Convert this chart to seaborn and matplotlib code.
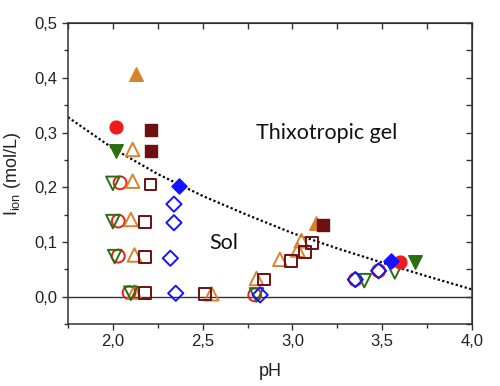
import numpy as np
import pandas as pd
import seaborn as sns
from matplotlib import pyplot as plt
from matplotlib.ticker import MultipleLocator, FuncFormatter

# ---- data ----
red_open_ph = [2.04, 2.03, 2.03, 2.09, 2.79, 3.35, 3.48]
red_open_i = [0.208, 0.138, 0.074, 0.007, 0.003, 0.031, 0.047]
red_fill_ph = [2.02, 3.60]
red_fill_i = [0.310, 0.064]

green_open_ph = [2.00, 2.00, 2.01, 2.10, 2.80, 3.40, 3.57]
green_open_i = [0.207, 0.137, 0.073, 0.006, 0.003, 0.029, 0.045]
green_fill_ph = [2.02, 3.68]
green_fill_i = [0.267, 0.064]

orange_open_ph = [2.11, 2.11, 2.10, 2.12, 2.12, 2.55, 2.80, 2.93, 3.03, 3.05]
orange_open_i = [0.269, 0.211, 0.141, 0.076, 0.008, 0.005, 0.033, 0.068, 0.085, 0.102]
orange_fill_ph = [2.13, 3.13]
orange_fill_i = [0.407, 0.134]

maroon_open_ph = [2.21, 2.18, 2.18, 2.18, 2.515, 2.84, 2.99, 3.07, 3.11]
maroon_open_i = [0.205, 0.137, 0.072, 0.006, 0.005, 0.031, 0.065, 0.082, 0.098]
maroon_fill_ph = [2.21, 2.21, 3.17]
maroon_fill_i = [0.305, 0.266, 0.130]

blue_open_ph = [2.34, 2.34, 2.32, 2.35, 2.82, 3.35, 3.48]
blue_open_i = [0.169, 0.135, 0.070, 0.006, 0.003, 0.031, 0.047]
blue_fill_ph = [2.37, 3.55]
blue_fill_i = [0.203, 0.065]

# dotted gel/sol boundary (guide line)
border_ph = [1.75, 2.00, 2.25, 2.50, 2.75, 3.00, 3.25, 3.50, 3.75, 4.00]
border_i = [0.328, 0.271, 0.224, 0.184, 0.149, 0.116, 0.088, 0.062, 0.037, 0.013]

series = [
    # name, color, marker, size, open x/y, filled x/y
    ("red", "#f01c1c", "o", 85, red_open_ph, red_open_i, red_fill_ph, red_fill_i),
    ("orange", "#d9822b", "^", 95, orange_open_ph, orange_open_i, orange_fill_ph, orange_fill_i),
    ("maroon", "#6e1010", "s", 72, maroon_open_ph, maroon_open_i, maroon_fill_ph, maroon_fill_i),
    ("green", "#2b6e12", "v", 95, green_open_ph, green_open_i, green_fill_ph, green_fill_i),
    ("blue", "#1414ff", "D", 60, blue_open_ph, blue_open_i, blue_fill_ph, blue_fill_i),
]

sns.set_style("ticks")
plt.rcParams["font.family"] = ["Liberation Sans", "DejaVu Sans"]

fig, ax = plt.subplots(figsize=(5, 3.86), dpi=100)
fig.subplots_adjust(left=0.136, right=0.944, bottom=0.161, top=0.94)

ax.axhline(0, color="#333333", lw=1.0, zorder=1)
sns.lineplot(x=border_ph, y=border_i, ax=ax, color="black", lw=1.6,
             linestyle=(0, (1, 1.1)), zorder=2)

for name, c, m, s, ox, oy, fx, fy in series:
    sns.scatterplot(x=ox, y=oy, ax=ax, marker=m, s=s, facecolor="none",
                    edgecolor=c, linewidth=1.4, zorder=3)
    sns.scatterplot(x=fx, y=fy, ax=ax, marker=m, s=s, color=c,
                    edgecolor=c, linewidth=1.0, zorder=4)

ax.set_xlim(1.75, 4.0)
ax.set_ylim(-0.05, 0.5)
ax.xaxis.set_major_locator(MultipleLocator(0.5))
ax.xaxis.set_minor_locator(MultipleLocator(0.25))
ax.yaxis.set_major_locator(MultipleLocator(0.1))
ax.yaxis.set_minor_locator(MultipleLocator(0.05))
comma = FuncFormatter(lambda v, p: f"{v:.1f}".replace(".", ","))
ax.xaxis.set_major_formatter(comma)
ax.yaxis.set_major_formatter(comma)

for sp in ax.spines.values():
    sp.set_visible(True)
    sp.set_color("#333333")
    sp.set_linewidth(1.1)
ax.tick_params(which="major", direction="out", length=4, width=1, colors="#333333",
               labelsize=12, labelcolor="#222222")
ax.tick_params(which="minor", direction="out", length=3, width=1, colors="#333333")

# mirrored inward ticks on top and right
top = ax.secondary_xaxis("top")
top.xaxis.set_major_locator(MultipleLocator(0.25))
top.tick_params(direction="in", length=4, width=1, colors="#333333", labeltop=False)
right = ax.secondary_yaxis("right")
right.yaxis.set_major_locator(MultipleLocator(0.05))
right.tick_params(direction="in", length=4, width=1, colors="#333333", labelright=False)

ax.set_xlabel("pH", fontsize=13, color="#222222", labelpad=10)
ax.set_ylabel("I$_{\\mathregular{ion}}$ (mol/L)", fontsize=13, color="#222222", labelpad=8)

ax.text(3.19, 0.30, "Thixotropic gel", fontsize=15.5, family=["Lato", "DejaVu Sans"],
        ha="center", va="center", color="#111111")
ax.text(2.62, 0.098, "Sol", fontsize=15.5, family=["Lato", "DejaVu Sans"],
        ha="center", va="center", color="#111111")

fig.savefig("out.png", dpi=100, facecolor="white")
